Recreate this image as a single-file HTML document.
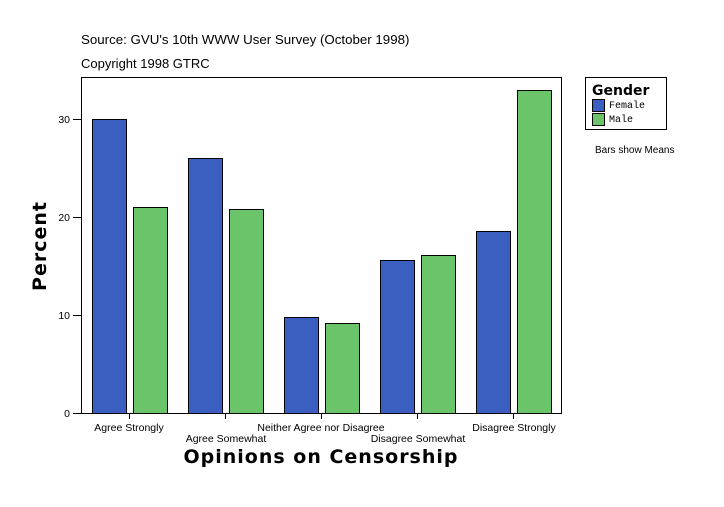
<!DOCTYPE html><html><head><style>body{margin:0;background:#fff}</style></head><body>
<svg width="724" height="502" xmlns="http://www.w3.org/2000/svg" font-family="Liberation Sans, Arial, sans-serif">
<rect width="724" height="502" fill="#fff"/>
<text x="81" y="44" font-size="13.3">Source: GVU's 10th WWW User Survey (October 1998)</text>
<text x="81" y="68" font-size="13">Copyright 1998 GTRC</text>
<rect x="81.5" y="77.5" width="480" height="336" fill="#fff" stroke="#000"/>
<g stroke="#000" stroke-width="1">
<line x1="73" y1="413.5" x2="81" y2="413.5"/><line x1="73" y1="315.5" x2="81" y2="315.5"/><line x1="73" y1="217.5" x2="81" y2="217.5"/><line x1="73" y1="119.5" x2="81" y2="119.5"/>
<line x1="129.5" y1="413" x2="129.5" y2="419"/><line x1="225.5" y1="413" x2="225.5" y2="419"/><line x1="321.5" y1="413" x2="321.5" y2="419"/><line x1="417.5" y1="413" x2="417.5" y2="419"/><line x1="513.5" y1="413" x2="513.5" y2="419"/>
</g>
<g font-size="10.5" text-anchor="end"><text x="70" y="417">0</text><text x="70" y="319">10</text><text x="70" y="221">20</text><text x="70" y="123">30</text></g>
<g stroke="#000" stroke-width="1">
<rect x="92.5" y="119.5" width="34" height="294" fill="#3a5fc0"/>
<rect x="133.5" y="207.5" width="34" height="206" fill="#6cc46a"/>
<rect x="188.5" y="158.5" width="34" height="255" fill="#3a5fc0"/>
<rect x="229.5" y="209.5" width="34" height="204" fill="#6cc46a"/>
<rect x="284.5" y="317.5" width="34" height="96" fill="#3a5fc0"/>
<rect x="325.5" y="323.5" width="34" height="90" fill="#6cc46a"/>
<rect x="380.5" y="260.5" width="34" height="153" fill="#3a5fc0"/>
<rect x="421.5" y="255.5" width="34" height="158" fill="#6cc46a"/>
<rect x="476.5" y="231.5" width="34" height="182" fill="#3a5fc0"/>
<rect x="517.5" y="90.5" width="34" height="323" fill="#6cc46a"/>
</g>
<g font-size="10.5" text-anchor="middle">
<text x="129" y="431">Agree Strongly</text>
<text x="226" y="442">Agree Somewhat</text>
<text x="321" y="431">Neither Agree nor Disagree</text>
<text x="418" y="442">Disagree Somewhat</text>
<text x="514" y="431">Disagree Strongly</text>
</g>
<text x="321" y="463" font-size="19" font-weight="bold" text-anchor="middle" font-family="DejaVu Sans, sans-serif" letter-spacing="1">Opinions on Censorship</text>
<text transform="translate(46,246) rotate(-90)" font-size="19" font-weight="bold" text-anchor="middle" font-family="DejaVu Sans, sans-serif" letter-spacing="1">Percent</text>
<rect x="585.5" y="77.5" width="81" height="52" fill="#fff" stroke="#000"/>
<text x="592" y="95" font-size="14" font-weight="bold" font-family="DejaVu Sans, sans-serif">Gender</text>
<rect x="592.5" y="99.5" width="12" height="12" fill="#3a5fc0" stroke="#000"/>
<rect x="592.5" y="113.5" width="12" height="12" fill="#6cc46a" stroke="#000"/>
<text x="609" y="108" font-size="10" font-family="Liberation Mono, monospace">Female</text>
<text x="609" y="122" font-size="10" font-family="Liberation Mono, monospace">Male</text>
<text x="595" y="153" font-size="10">Bars show Means</text>
</svg></body></html>
